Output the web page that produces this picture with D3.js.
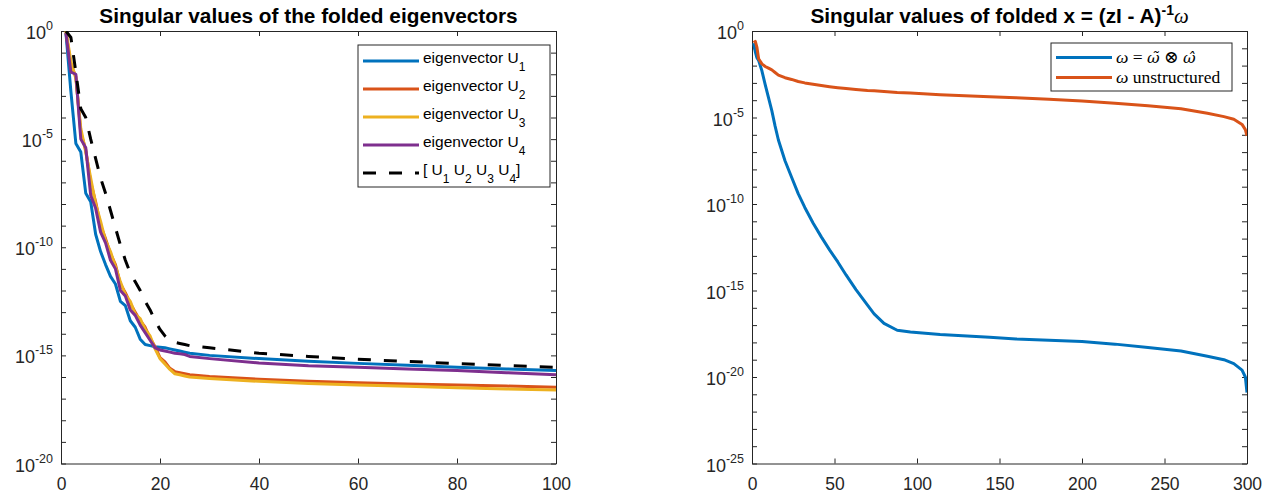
<!DOCTYPE html>
<html>
<head>
<meta charset="utf-8">
<script src="https://cdn.jsdelivr.net/npm/d3@7"></script>
<style>
  body { margin: 0; background: #fff; }
  svg { display: block; font-family: "Liberation Sans", Arial, sans-serif; }
  .axis path, .axis line { stroke: #262626; }
  .axis text { fill: #262626; font-size: 17.5px; font-family: "Liberation Sans", Arial, sans-serif; }
</style>
</head>
<body>
<svg width="1273" height="496"></svg>
<script>
// Left panel: index of singular value, and log10 of each singular value
const leftX = [1, 2, 3, 4, 5, 6, 7, 8, 9, 10, 11, 12, 13, 14, 15, 16, 17, 18, 19, 20, 21, 22, 23, 24, 25, 26, 30, 40, 50, 60, 70, 80, 90, 100];
const u1Exp = [-0.1, -2.8, -5.2, -5.6, -7.5, -7.9, -9.4, -10.2, -10.8, -11.35, -11.7, -12.5, -12.7, -13.4, -13.7, -14.25, -14.5, -14.55, -14.6, -14.62, -14.65, -14.7, -14.75, -14.8, -14.85, -14.9, -15.0, -15.15, -15.27, -15.37, -15.46, -15.55, -15.63, -15.7];
const u2Exp = [-0.05, -1.6, -2.1, -4.7, -5.5, -7.0, -7.9, -9.0, -9.6, -10.3, -10.8, -11.7, -12.1, -12.6, -13.0, -13.4, -13.7, -14.2, -14.6, -15.1, -15.3, -15.6, -15.75, -15.8, -15.85, -15.9, -15.98, -16.1, -16.2, -16.27, -16.32, -16.37, -16.42, -16.47];
const u3Exp = [0.0, -1.4, -2.2, -4.5, -5.6, -6.8, -8.0, -8.8, -9.7, -10.2, -10.9, -11.6, -12.2, -12.5, -13.1, -13.3, -13.8, -14.1, -14.7, -15.15, -15.4, -15.65, -15.85, -15.9, -15.95, -16.0, -16.07, -16.2, -16.3, -16.37, -16.43, -16.5, -16.55, -16.6];
const u4Exp = [-0.1, -1.9, -2.0, -5.0, -5.4, -7.6, -8.2, -9.3, -9.8, -10.6, -11.0, -12.0, -12.25, -12.9, -13.15, -13.6, -13.95, -14.3, -14.65, -14.75, -14.8, -14.85, -14.9, -14.93, -14.96, -15.05, -15.15, -15.35, -15.48, -15.55, -15.63, -15.7, -15.8, -15.9];
const allExp = [0.0, -0.3, -1.9, -3.6, -4.0, -5.0, -5.9, -6.8, -7.5, -8.3, -9.1, -9.9, -10.6, -11.2, -11.6, -12.0, -12.5, -12.9, -13.4, -13.8, -14.1, -14.3, -14.4, -14.45, -14.5, -14.55, -14.65, -14.9, -15.05, -15.18, -15.28, -15.38, -15.47, -15.55];

// Right panel
const rightX = [1, 2, 3, 4, 6, 8, 10, 12, 14, 16, 20, 24, 28, 32, 37, 42, 47, 52, 57, 63, 70, 74, 80, 88, 96, 114, 144, 160, 180, 200, 220, 240, 260, 276, 286, 292, 297, 299, 300];
const structExp = [-0.7, -1.2, -1.55, -1.7, -2.3, -3.1, -3.85, -4.6, -5.5, -6.3, -7.5, -8.45, -9.4, -10.2, -11.1, -11.9, -12.65, -13.35, -14.1, -14.95, -15.85, -16.35, -16.9, -17.3, -17.4, -17.55, -17.7, -17.8, -17.88, -17.95, -18.1, -18.3, -18.5, -18.8, -19.0, -19.23, -19.6, -20.0, -20.9];
const unstructExp = [-0.67, -0.6, -0.95, -1.6, -1.9, -2.05, -2.15, -2.25, -2.4, -2.55, -2.7, -2.8, -2.92, -3.0, -3.08, -3.15, -3.22, -3.28, -3.33, -3.38, -3.44, -3.46, -3.5, -3.55, -3.58, -3.68, -3.8, -3.86, -3.95, -4.04, -4.17, -4.32, -4.5, -4.75, -4.95, -5.1, -5.4, -5.7, -6.06];

const leftXTicks = [0, 20, 40, 60, 80, 100];
const rightXTicks = [0, 50, 100, 150, 200, 250, 300];

const BLUE = '#0072BD', ORANGE = '#D95319', YELLOW = '#EDB120', PURPLE = '#7E2F8E';
const SANS = '"Liberation Sans", Arial, sans-serif';
const SERIF = '"Liberation Serif", "DejaVu Serif", serif';

const svg = d3.select('svg');
svg.append('rect').attr('width', 1273).attr('height', 496).attr('fill', '#fff');

//Write a text made of pieces, some of them raised or lowered
const appendRich = (text, parts) => {
    let shift = 0;
    parts.forEach(p => {
        const s = p.shift || 0;
        const t = text.append('tspan').text(p.t).attr('dy', s - shift);
        if (p.size) t.attr('font-size', p.size);
        if (p.italic) t.attr('font-style', 'italic');
        if (p.family) t.attr('font-family', p.family);
        if (p.weight) t.attr('font-weight', p.weight);
        shift = s;
    });
}

//One axes box with its lines
const drawPanel = (props) => {
    const { id, left, right, top, bottom, xDomain, xTicks, minExp, series, title } = props;
    const x = d3.scaleLinear().domain(xDomain).range([left, right]);
    const y = d3.scaleLog().domain([Math.pow(10, minExp), 1]).range([bottom, top]);
    const decades = d3.range(minExp, 1).map(k => Math.pow(10, k));

    const g = svg.append('g');

    g.append('clipPath').attr('id', id)
        .append('rect')
        .attr('x', left).attr('y', top)
        .attr('width', right - left).attr('height', bottom - top);

    //axes, ticks pointing inward like matlab
    g.append('g').attr('class', 'axis')
        .attr('transform', `translate(0,${bottom})`)
        .call(d3.axisBottom(x).tickValues(xTicks).tickSize(-5).tickSizeOuter(0).tickPadding(14));
    g.append('g').attr('class', 'axis')
        .attr('transform', `translate(0,${top})`)
        .call(d3.axisTop(x).tickValues(xTicks).tickSize(-5).tickSizeOuter(0).tickFormat(''));
    g.append('g').attr('class', 'axis')
        .attr('transform', `translate(${left},0)`)
        .call(d3.axisLeft(y).tickValues(decades).tickSize(-5).tickSizeOuter(0).tickFormat(''));
    g.append('g').attr('class', 'axis')
        .attr('transform', `translate(${right},0)`)
        .call(d3.axisRight(y).tickValues(decades).tickSize(-5).tickSizeOuter(0).tickFormat(''));
    g.selectAll('.axis .domain').attr('stroke', '#262626');
    g.selectAll('.axis text').attr('font-family', null).attr('font-size', null);

    //y labels 10^k every 5 decades
    d3.range(minExp, 1).filter(k => k % 5 === 0).forEach(k => {
        const label = g.append('text')
            .attr('x', left - 8)
            .attr('y', y(Math.pow(10, k)) + 8)
            .attr('text-anchor', 'end')
            .attr('fill', '#262626')
            .attr('font-size', 18);
        appendRich(label, [{ t: '10' }, { t: String(k), shift: -9, size: 12.5 }]);
    });

    const line = d3.line()
        .x(d => x(d[0]))
        .y(d => y(Math.pow(10, d[1])));

    g.append('g').attr('clip-path', `url(#${id})`)
        .selectAll('path').data(series)
        .enter().append('path')
        .attr('d', s => line(d3.zip(s.xs, s.exps)))
        .attr('fill', 'none')
        .attr('stroke', s => s.color)
        .attr('stroke-width', 3)
        .attr('stroke-dasharray', s => s.dash ? '13,13' : null)
        .attr('stroke-linejoin', 'round');

    const titleText = g.append('text')
        .attr('x', (left + right) / 2)
        .attr('y', 23)
        .attr('text-anchor', 'middle')
        .attr('font-weight', 'bold')
        .attr('font-size', 20.8)
        .attr('fill', '#000');
    appendRich(titleText, title);
}

//Legend box
const drawLegend = (props) => {
    const { x0, y0, width, height, rowStart, rowGap, sample, textX, textDy, fontSize, family, entries } = props;
    const g = svg.append('g');
    g.append('rect')
        .attr('x', x0).attr('y', y0)
        .attr('width', width).attr('height', height)
        .attr('fill', '#fff')
        .attr('stroke', '#262626')
        .attr('stroke-width', 1);

    const rows = g.selectAll('g.legend').data(entries)
        .enter().append('g')
        .attr('class', 'legend')
        .attr('transform', (_d, i) => `translate(0, ${rowStart + i * rowGap})`);

    rows.append('line')
        .attr('x1', sample[0]).attr('x2', sample[1])
        .attr('stroke', d => d.color)
        .attr('stroke-width', 3)
        .attr('stroke-dasharray', d => d.dash ? '13,13' : null);

    rows.append('text')
        .attr('x', textX)
        .attr('y', textDy)
        .attr('font-size', fontSize)
        .attr('font-family', family)
        .attr('fill', '#000')
        .each(function (d) { appendRich(d3.select(this), d.parts); });
}

drawPanel({
    id: 'clipLeft', left: 61, right: 556, top: 31, bottom: 463.5,
    xDomain: [0, 100], xTicks: leftXTicks, minExp: -20,
    series: [
        { xs: leftX, exps: u1Exp, color: BLUE },
        { xs: leftX, exps: u2Exp, color: ORANGE },
        { xs: leftX, exps: u3Exp, color: YELLOW },
        { xs: leftX, exps: u4Exp, color: PURPLE },
        { xs: leftX, exps: allExp, color: '#000', dash: true }
    ],
    title: [{ t: 'Singular values of the folded eigenvectors' }]
});

drawPanel({
    id: 'clipRight', left: 752, right: 1247, top: 31, bottom: 463.5,
    xDomain: [0, 300], xTicks: rightXTicks, minExp: -25,
    series: [
        { xs: rightX, exps: structExp, color: BLUE },
        { xs: rightX, exps: unstructExp, color: ORANGE }
    ],
    title: [
        { t: 'Singular values of folded x = (zI - A)' },
        { t: '-1', shift: -8, size: 14 },
        { t: 'ω', italic: true, weight: 'normal', family: SERIF }
    ]
});

const sub = n => ({ t: String(n), shift: 8, size: 12 });
const ACCENT = '"DejaVu Serif", serif';

drawLegend({
    x0: 358, y0: 45, width: 192, height: 142, rowStart: 61, rowGap: 28,
    sample: [363, 419], textX: 423, textDy: 2, fontSize: 15.5, family: SANS,
    entries: [
        { color: BLUE, parts: [{ t: 'eigenvector U' }, sub(1)] },
        { color: ORANGE, parts: [{ t: 'eigenvector U' }, sub(2)] },
        { color: YELLOW, parts: [{ t: 'eigenvector U' }, sub(3)] },
        { color: PURPLE, parts: [{ t: 'eigenvector U' }, sub(4)] },
        { color: '#000', dash: true, parts: [{ t: '[ U' }, sub(1), { t: ' U' }, sub(2), { t: ' U' }, sub(3), { t: ' U' }, sub(4), { t: ']' }] }
    ]
});

drawLegend({
    x0: 1051, y0: 43, width: 181, height: 48, rowStart: 57.5, rowGap: 20,
    sample: [1056, 1112], textX: 1116, textDy: 5, fontSize: 17.5, family: SERIF,
    entries: [
        { color: BLUE, parts: [
            { t: 'ω', italic: true }, { t: ' = ' },
            { t: 'ω\u0303', italic: true, family: ACCENT, size: 15.5 }, { t: ' \u2297 ', weight: 'normal' },
            { t: 'ω\u0302', italic: true, family: ACCENT, size: 15.5 }
        ] },
        { color: ORANGE, parts: [{ t: 'ω', italic: true }, { t: ' unstructured' }] }
    ]
});
</script>
</body>
</html>
